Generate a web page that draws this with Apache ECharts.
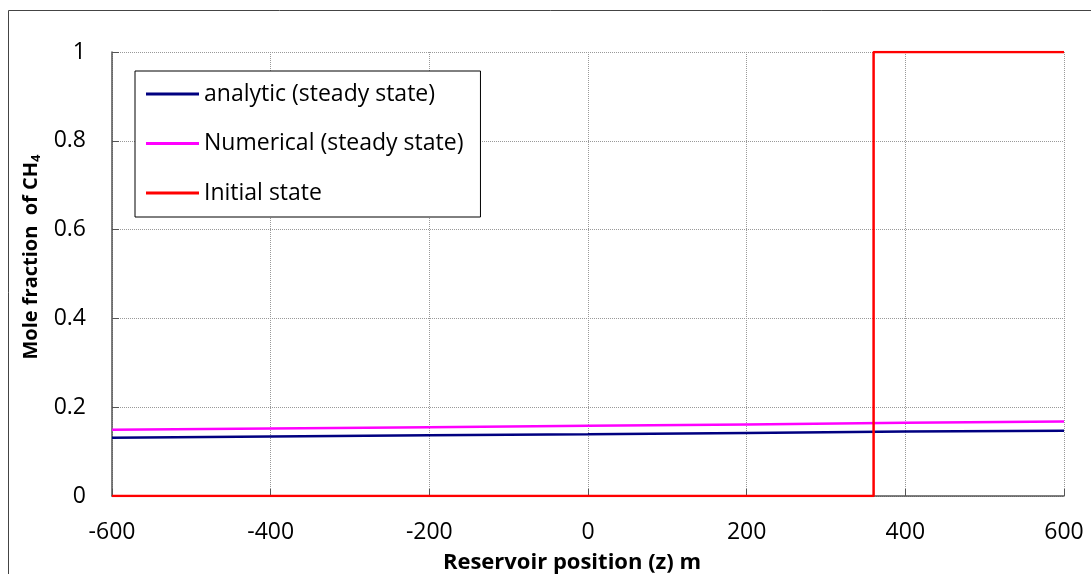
<!DOCTYPE html>
<html>
<head>
<meta charset="utf-8">
<script src="https://cdn.jsdelivr.net/npm/echarts@6/dist/echarts.min.js"></script>
<style>
  html, body { margin: 0; padding: 0; background: #fff; }
  #chart { width: 1091px; height: 574px; }
</style>
</head>
<body>
<div id="chart"></div>
<script>
// positions along reservoir (m)
const zPos = [-600, -400, -200, 0, 200, 400, 600]
const analytic = [0.131, 0.134, 0.137, 0.139, 0.142, 0.145, 0.147]
const numerical = [0.149, 0.152, 0.155, 0.158, 0.161, 0.165, 0.168]
// initial state is a step at z = 360
const initialZ = [-600, 360, 360, 600]
const initialY = [0, 0, 1, 1]

const pair = (xs, ys) => xs.map((x, i) => [x, ys[i]])

let chart = echarts.init(document.getElementById('chart'))

const font = 'Open Sans, Noto Sans, sans-serif'

const options = {
  animation: false,
  textStyle: { fontFamily: font },
  graphic: [
    {
      type: 'rect',
      shape: { x: 8.5, y: 10.5, width: 1200, height: 1000 },
      style: { fill: 'none', stroke: '#444', lineWidth: 1 },
      silent: true
    }
  ],
  grid: {
    left: 112,
    top: 52,
    right: 27,
    bottom: 78,
    outerBoundsMode: 'none'
  },
  legend: {
    orient: 'vertical',
    left: 135,
    top: 71,
    padding: [11, 17, 12, 11],
    itemWidth: 53,
    itemHeight: 3,
    itemGap: 25.5,
    backgroundColor: '#fff',
    borderColor: '#000',
    borderWidth: 1,
    icon: 'rect',
    textStyle: { fontSize: 23, lineHeight: 24, color: '#000', fontFamily: font },
    data: ['analytic (steady state)', 'Numerical (steady state)', 'Initial state']
  },
  xAxis: {
    type: 'value',
    min: -600,
    max: 600,
    interval: 200,
    name: 'Reservoir position (z) m',
    nameLocation: 'middle',
    nameGap: 56,
    nameTextStyle: { fontSize: 22, fontWeight: 'bold', color: '#000', padding: [0, 32, 0, 0] },
    axisLine: { show: true, onZero: false, lineStyle: { color: '#555', width: 1.5 } },
    axisTick: { show: true, inside: true, length: 7, lineStyle: { color: '#555' } },
    axisLabel: { fontSize: 23, color: '#000', margin: 25 },
    splitLine: { show: true, lineStyle: { color: '#999', type: 'dotted', width: 1 } }
  },
  yAxis: {
    type: 'value',
    min: 0,
    max: 1,
    interval: 0.2,
    name: '{t|Mole fraction  of CH}{s|4}',
    nameLocation: 'middle',
    nameGap: 68,
    nameTextStyle: {
      padding: [0, 0, 0, 34],
      rich: {
        t: { fontSize: 20, fontWeight: 'bold', color: '#000', fontFamily: font },
        s: { fontSize: 13, fontWeight: 'bold', color: '#000', fontFamily: font, padding: [9, 0, 0, 0] }
      }
    },
    axisLine: { show: true, onZero: false, lineStyle: { color: '#555', width: 1.5 } },
    axisTick: { show: true, inside: true, length: 7, lineStyle: { color: '#555' } },
    axisLabel: { fontSize: 23, color: '#000', margin: 26 },
    splitLine: { show: true, lineStyle: { color: '#999', type: 'dotted', width: 1 } }
  },
  series: [
    {
      name: 'analytic (steady state)',
      type: 'line',
      data: pair(zPos, analytic),
      showSymbol: false,
      color: '#000080',
      lineStyle: { width: 2.5 }
    },
    {
      name: 'Numerical (steady state)',
      type: 'line',
      data: pair(zPos, numerical),
      showSymbol: false,
      color: '#ff00ff',
      lineStyle: { width: 2.5 }
    },
    {
      name: 'Initial state',
      type: 'line',
      data: pair(initialZ, initialY),
      showSymbol: false,
      color: '#ff0000',
      lineStyle: { width: 2.5 }
    }
  ]
}
chart.setOption(options)
</script>
</body>
</html>
